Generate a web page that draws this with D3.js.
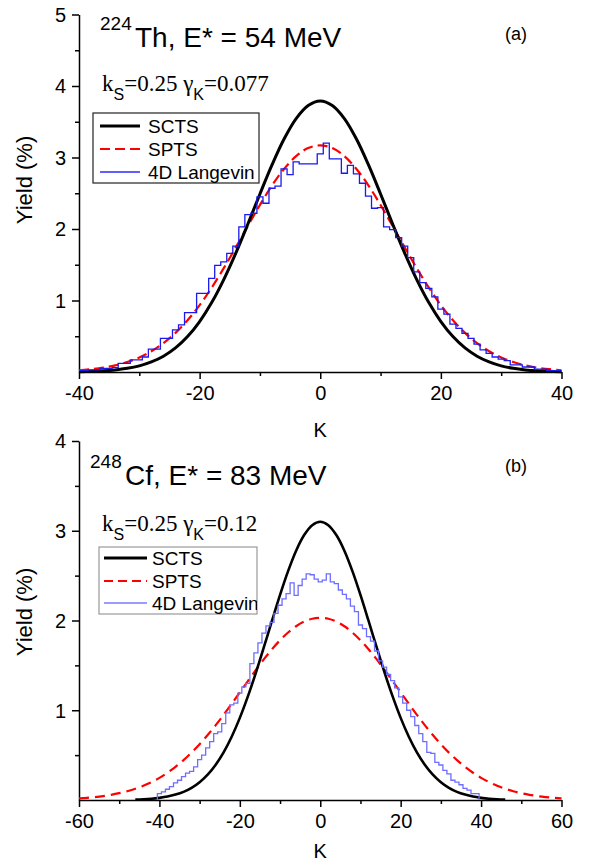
<!DOCTYPE html>
<html>
<head>
<meta charset="utf-8">
<script src="https://cdn.jsdelivr.net/npm/d3@7"></script>
<style>
  html, body { margin: 0; padding: 0; background: #fff; }
  svg { display: block; }
  text { font-family: "Liberation Sans", Arial, Helvetica, sans-serif; fill: #000; }
  .serif { font-family: "Liberation Serif", "Times New Roman", serif; }
</style>
</head>
<body>
<svg id="chart" width="590" height="862"></svg>
<script>
// ---------- Panel (a): 224Th, E* = 54 MeV ----------
const kSmoothA = d3.range(-40, 41, 2);
const sctsA = [0.005,0.009,0.016,0.029,0.051,0.086,0.141,0.221,0.337,0.496,0.706,0.971,1.293,1.663,2.070,2.490,2.896,3.258,3.544,3.727,
  3.790,
  3.727,3.544,3.258,2.896,2.490,2.070,1.663,1.293,0.971,0.706,0.496,0.337,0.221,0.141,0.086,0.051,0.029,0.016,0.009,0.005];
const sptsA = [0.024,0.039,0.061,0.093,0.139,0.203,0.290,0.403,0.547,0.724,0.935,1.180,1.452,1.743,2.043,2.336,2.608,2.840,3.019,3.132,
  3.170,
  3.132,3.019,2.840,2.608,2.336,2.043,1.743,1.452,1.180,0.935,0.724,0.547,0.403,0.290,0.203,0.139,0.093,0.061,0.039,0.024];
const kBinsA = d3.range(-40, 41, 1);
const langevinA = [
  0.02,0.02,0.03,0.03,0.05,0.05,0.06,0.12,0.12,0.17,
  0.17,0.21,0.32,0.32,0.47,0.47,0.59,0.66,0.83,0.83,
  1.10,1.10,1.31,1.49,1.54,1.66,1.76,2.03,2.20,2.22,
  2.45,2.36,2.57,2.60,2.84,2.76,2.94,2.91,2.91,2.91,
  3.05,
  3.20,2.98,2.98,2.78,2.89,2.77,2.64,2.46,2.29,2.30,
  2.03,1.99,1.88,1.76,1.60,1.40,1.25,1.17,1.05,0.88,
  0.81,0.67,0.61,0.54,0.47,0.39,0.31,0.26,0.21,0.18,
  0.16,0.10,0.10,0.07,0.07,0.04,0.04,0.02,0.02,0.02];
const xTicksA = [-40, -20, 0, 20, 40];
const xMinorA = [-30, -10, 10, 30];
const yTicksA = [1, 2, 3, 4, 5];
const yMinorA = [0.5, 1.5, 2.5, 3.5, 4.5];

// ---------- Panel (b): 248Cf, E* = 83 MeV ----------
const kSmoothB1 = d3.range(-46, 47, 2);
const sctsB = [0.005,0.008,0.014,0.024,0.038,0.060,0.091,0.136,0.199,0.283,0.394,0.534,0.708,0.915,1.154,1.419,1.705,1.998,2.285,2.550,2.778,2.952,3.062,
  3.100,
  3.062,2.952,2.778,2.550,2.285,1.998,1.705,1.419,1.154,0.915,0.708,0.534,0.394,0.283,0.199,0.136,0.091,0.060,0.038,0.024,0.014,0.008,0.005];
const kSmoothB2 = d3.range(-60, 61, 2);
const sptsB = [0.018,0.024,0.033,0.044,0.058,0.076,0.098,0.125,0.159,0.199,0.247,0.304,0.369,0.444,0.528,0.621,0.724,0.834,0.951,1.074,
  1.199,1.325,1.449,1.569,1.680,1.780,1.866,1.936,1.988,2.019,
  2.030,
  2.019,1.988,1.936,1.866,1.780,1.680,1.569,1.449,1.325,1.199,
  1.074,0.951,0.834,0.724,0.621,0.528,0.444,0.369,0.304,0.247,0.199,0.159,0.125,0.098,0.076,0.058,0.044,0.033,0.024,0.018];
const kBinsB = d3.range(-40, 40, 1);
const langevinB = [
  0.07,0.09,0.12,0.15,0.19,0.22,0.26,0.30,0.32,0.37,
  0.45,0.50,0.58,0.65,0.74,0.76,0.85,0.97,1.06,1.08,
  1.19,1.26,1.30,1.52,1.64,1.75,1.86,1.94,1.98,2.08,
  2.17,2.24,2.30,2.42,2.28,2.39,2.46,2.52,2.51,2.46,
  2.43,2.45,2.52,2.43,2.41,2.34,2.29,2.24,2.16,2.10,
  1.95,1.91,1.82,1.77,1.66,1.55,1.48,1.40,1.33,1.25,
  1.15,1.08,1.00,0.93,0.83,0.74,0.65,0.53,0.52,0.42,
  0.39,0.33,0.29,0.22,0.20,0.17,0.13,0.11,0.07,0.07];
const xTicksB = [-60, -40, -20, 0, 20, 40, 60];
const xMinorB = [-50, -30, -10, 10, 30, 50];
const yTicksB = [1, 2, 3, 4];
const yMinorB = [0.5, 1.5, 2.5, 3.5];

const seriesNames = ["SCTS", "SPTS", "4D Langevin"];

const svg = d3.select("#chart");

function drawPanel(p) {
  const g = svg.append("g");
  const x = d3.scaleLinear().domain(p.xDomain).range([79, 561.5]);
  const y = d3.scaleLinear().domain(p.yDomain).range([p.y0, p.yTop]);

  // axes: major ticks with labels, minor ticks without
  const axX = g.append("g").attr("transform", `translate(0,${p.y0})`)
    .call(d3.axisBottom(x).tickValues(p.xTicks).tickSize(7).tickSizeOuter(0).tickPadding(5)
      .tickFormat(d => d < 0 ? "-" + Math.abs(d) : String(d)));
  g.append("g").attr("transform", `translate(0,${p.y0})`)
    .call(d3.axisBottom(x).tickValues(p.xMinor).tickSize(4).tickSizeOuter(0).tickFormat(""))
    .select(".domain").remove();
  const axY = g.append("g").attr("transform", "translate(79,0)")
    .call(d3.axisLeft(y).tickValues(p.yTicks).tickSize(7).tickSizeOuter(0).tickPadding(6)
      .tickFormat(d3.format("d")));
  g.append("g").attr("transform", "translate(79,0)")
    .call(d3.axisLeft(y).tickValues(p.yMinor).tickSize(4).tickSizeOuter(0).tickFormat(""))
    .select(".domain").remove();
  g.selectAll(".domain, .tick line").attr("stroke", "#000").attr("stroke-width", 1.5);
  axX.selectAll("text").attr("font-size", 20).attr("font-family", "Liberation Sans, Arial, sans-serif").attr("dy", "0.78em");
  axY.selectAll("text").attr("font-size", 20).attr("font-family", "Liberation Sans, Arial, sans-serif").attr("dy", "0.34em");

  // axis titles
  g.append("text").attr("x", x(0)).attr("y", p.kLabelY).attr("text-anchor", "middle")
    .attr("font-size", 20).text("K");
  g.append("text").attr("transform", `translate(32,${p.yLabelMid}) rotate(-90)`)
    .attr("text-anchor", "middle").attr("font-size", 22).text("Yield (%)");

  // curves
  const smooth = d3.line().curve(d3.curveCatmullRom.alpha(0.5));
  g.append("path")
    .attr("d", smooth(p.kSpts.map((k, i) => [x(k), y(p.spts[i])])))
    .attr("fill", "none").attr("stroke", "#ff0000").attr("stroke-width", 2.2)
    .attr("stroke-dasharray", p.dash);
  g.append("path")
    .attr("d", smooth(p.kScts.map((k, i) => [x(k), y(p.scts[i])])))
    .attr("fill", "none").attr("stroke", "#000").attr("stroke-width", p.sctsWidth);

  // histogram drawn as steps around each integer K bin
  if (p.closeHist) {
    const kb = p.kBins;
    const pts = [[kb[0] - 0.5, 0]];
    kb.forEach((k, i) => pts.push([k - 0.5, p.hist[i]]));
    pts.push([kb[kb.length - 1] + 0.5, 0]);
    g.append("path")
      .attr("d", d3.line().curve(d3.curveStepAfter)(pts.map(d => [x(d[0]), y(d[1])])))
      .attr("fill", "none").attr("stroke", p.histColor).attr("stroke-width", 1.3);
  } else {
    g.append("path")
      .attr("d", d3.line().curve(d3.curveStep)(p.kBins.map((k, i) => [x(k), y(p.hist[i])])))
      .attr("fill", "none").attr("stroke", p.histColor).attr("stroke-width", 1.3);
  }

  // title with mass-number superscript
  const t = g.append("text");
  t.append("tspan").attr("x", p.title.x).attr("y", p.title.yBase - 17).attr("font-size", 19).text(p.title.mass);
  t.append("tspan").attr("x", p.title.x + 35).attr("y", p.title.yBase).attr("font-size", 28).text(p.title.rest);

  // panel letter
  g.append("text").attr("x", 516).attr("y", p.letterY).attr("text-anchor", "middle")
    .attr("font-size", 18).text(p.letter);

  // parameter line: k_S = 0.25  gamma_K = ...
  const pt = g.append("text").attr("x", 102).attr("y", p.paramY).attr("class", "serif").attr("font-size", 23);
  pt.append("tspan").text("k");
  pt.append("tspan").attr("dy", 9).attr("font-size", 16).attr("font-family", "Liberation Sans, Arial, sans-serif").text("S");
  pt.append("tspan").attr("dy", -9).text("=0.25 \u03b3");
  pt.append("tspan").attr("dy", 9).attr("font-size", 16).attr("font-family", "Liberation Sans, Arial, sans-serif").text("K");
  pt.append("tspan").attr("dy", -9).text("=" + p.gamma);

  // legend
  const L = p.legend;
  const clipId = "clip-" + p.letter.replace(/\W/g, "");
  svg.append("clipPath").attr("id", clipId)
    .append("rect").attr("x", L.x0).attr("y", L.y0).attr("width", L.x1 - L.x0).attr("height", L.y1 - L.y0);
  const lg = g.append("g");
  lg.append("rect").attr("x", L.x0).attr("y", L.y0).attr("width", L.x1 - L.x0).attr("height", L.y1 - L.y0)
    .attr("fill", "#fff").attr("stroke", L.border).attr("stroke-width", 1.2);
  const styles = [
    { stroke: "#000", width: 3, dash: null },
    { stroke: "#ff0000", width: 2.2, dash: L.dash },
    { stroke: L.blue, width: 1.3, dash: null }
  ];
  const inner = lg.append("g").attr("clip-path", `url(#${clipId})`);
  seriesNames.forEach((name, i) => {
    inner.append("line").attr("x1", L.lx0).attr("x2", L.lx1).attr("y1", L.rows[i]).attr("y2", L.rows[i])
      .attr("stroke", styles[i].stroke).attr("stroke-width", styles[i].width)
      .attr("stroke-dasharray", styles[i].dash);
    inner.append("text").attr("x", L.tx).attr("y", L.rows[i] + 7).attr("font-size", 19).text(name);
  });
}

drawPanel({
  xDomain: [-40, 40], yDomain: [0, 5], y0: 372, yTop: 14.5,
  xTicks: xTicksA, xMinor: xMinorA, yTicks: yTicksA, yMinor: yMinorA,
  kLabelY: 437, yLabelMid: 180,
  kSpts: kSmoothA, spts: sptsA, kScts: kSmoothA, scts: sctsA, sctsWidth: 3,
  kBins: kBinsA, hist: langevinA, histColor: "#1a1aee", closeHist: false,
  dash: "10,5",
  title: { x: 100, yBase: 47, mass: "224", rest: "Th, E* = 54 MeV" },
  letter: "(a)", letterY: 40, paramY: 91, gamma: "0.077",
  legend: { x0: 93, y0: 113, x1: 259, y1: 183, border: "#222", rows: [126, 149, 172],
            lx0: 100, lx1: 140, tx: 148, dash: "10,5", blue: "#2a2aff" }
});

drawPanel({
  xDomain: [-60, 60], yDomain: [0, 4], y0: 800, yTop: 441,
  xTicks: xTicksB, xMinor: xMinorB, yTicks: yTicksB, yMinor: yMinorB,
  kLabelY: 858, yLabelMid: 612,
  kSpts: kSmoothB2, spts: sptsB, kScts: kSmoothB1, scts: sctsB, sctsWidth: 2.6,
  kBins: kBinsB, hist: langevinB, histColor: "#6e6eff", closeHist: true,
  dash: "10,6",
  title: { x: 90, yBase: 485, mass: "248", rest: "Cf, E* = 83 MeV" },
  letter: "(b)", letterY: 472, paramY: 531, gamma: "0.12",
  legend: { x0: 99, y0: 547, x1: 257, y1: 614, border: "#999", rows: [558, 581, 603],
            lx0: 104, lx1: 147, tx: 152, dash: "9,5", blue: "#7a7aff" }
});
</script>
</body>
</html>
